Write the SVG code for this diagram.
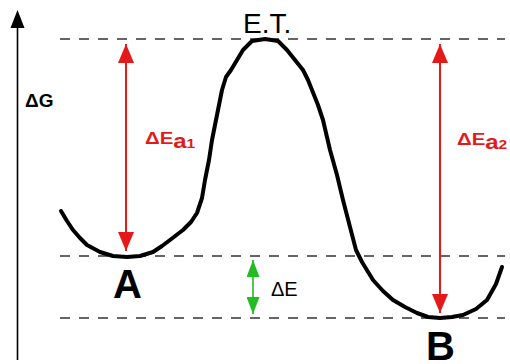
<svg xmlns="http://www.w3.org/2000/svg" width="510" height="364" viewBox="0 0 510 364">
<style>
text{font-family:"Liberation Sans",Arial,sans-serif}
.dash{stroke:#333;stroke-width:1.4;stroke-dasharray:10 9;fill:none}
.red{stroke:#e41a1a;stroke-width:2;fill:none}
.grn{stroke:#22bb22;stroke-width:1.6;fill:none}
.rt{fill:#e41a1a;font-weight:bold}
.big{font-weight:bold;font-size:40px;fill:#000}
</style>
<defs>
<marker id="ra" viewBox="0 0 19 16" refX="19" refY="8" markerWidth="19" markerHeight="16" markerUnits="userSpaceOnUse" orient="auto-start-reverse"><path d="M0,0 L19,8 L0,16 z" fill="#e41a1a"/></marker>
<marker id="ga" viewBox="0 0 17 13" refX="17" refY="6.5" markerWidth="17" markerHeight="13" markerUnits="userSpaceOnUse" orient="auto-start-reverse"><path d="M0,0 L17,6.5 L0,13 z" fill="#22bb22"/></marker>
</defs>
<rect width="510" height="364" fill="#fff"/>
<g id="axis">
<line x1="17.5" y1="26" x2="17.5" y2="360" stroke="#000" stroke-width="1.6"/>
<polygon points="17.5,10 10.5,28 24.5,28" fill="#000"/>
<text x="25" y="107" font-size="19" font-weight="bold">ΔG</text>
</g>
<g id="levels">
<line class="dash" x1="60" y1="39" x2="505" y2="39"/>
<line class="dash" x1="60" y1="256" x2="505" y2="256"/>
<line class="dash" x1="60" y1="318" x2="505" y2="318"/>
</g>
<g id="curve">
<polyline points="61,211 67,221 73,230 80,238 87,245 100,252 113,256 127,257 140,256 153,252 162,246 170,240 183,230 191,222 197,213 202,198 205,180 209,160 212,140 216,120 222,90 226,77 231,70 237,60 243,50 252,41 265,39 278,41 287,50 295,60 303,70 308,80 312,90 318,105 323,120 330,150 337,175 343,200 350,227 356,250 362,262 373,280 383,291 393,300 405,307 417,313 428,317 440,318 452,317 463,315 476,309 487,300 496,284 502,267" fill="none" stroke="#000" stroke-width="4" stroke-linejoin="round" stroke-linecap="round"/>
</g>
<g id="state-A"><text class="big" x="113" y="298">A</text></g>
<g id="state-B"><text class="big" x="426" y="360">B</text></g>
<g id="state-ET"><text x="243" y="33" font-size="28" fill="#000">E.T.</text></g>
<g id="connectors">
<line class="red" x1="126" y1="44" x2="126" y2="251" marker-start="url(#ra)" marker-end="url(#ra)"/>
<line class="red" x1="440" y1="44" x2="440" y2="313" marker-start="url(#ra)" marker-end="url(#ra)"/>
<line class="grn" x1="253" y1="260" x2="253" y2="314" marker-start="url(#ga)" marker-end="url(#ga)"/>
</g>
<g id="labels">
<text class="rt" transform="translate(145,144) scale(1.2,1)" font-size="17">ΔE<tspan dy="4" font-size="20">a</tspan><tspan font-size="13">1</tspan></text>
<text class="rt" transform="translate(457,145) scale(1.2,1)" font-size="17">ΔE<tspan dy="4" font-size="20">a</tspan><tspan font-size="13">2</tspan></text>
<text x="271" y="296" font-size="20" fill="#000">ΔE</text>
</g>
</svg>
